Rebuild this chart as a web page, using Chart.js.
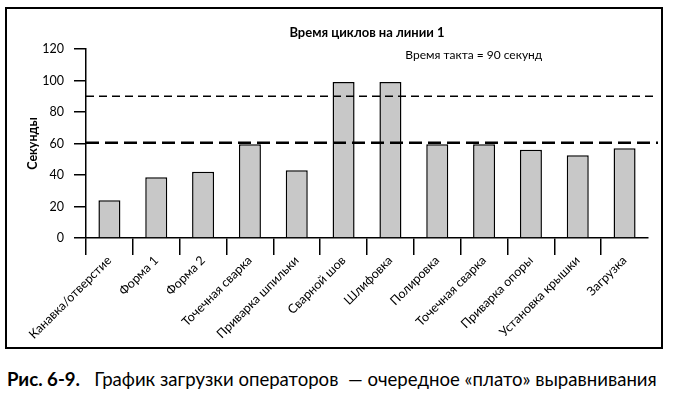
<!DOCTYPE html>
<html>
<head>
<meta charset="utf-8">
<script src="https://cdn.jsdelivr.net/npm/chart.js@4.4.1/dist/chart.umd.min.js"></script>
<style>
  body { margin: 0; background: #fff; }
  #wrap { position: relative; width: 673px; height: 397px; }
  #frame { position: absolute; left: 5px; top: 7px; width: 654px; height: 338px; border: 2px solid #000; }
  #frame canvas { display: block; }
  #caption { position: absolute; left: 7px; top: 368px; font: 18.6px Lato, sans-serif; color: #000; white-space: nowrap; }
  #caption b { font-weight: bold; }
</style>
</head>
<body>
<div id="wrap">
  <div id="frame"><canvas id="loadChart" width="654" height="338"></canvas></div>
  <div id="caption"><b>Рис. 6-9.</b>&nbsp;&nbsp; График загрузки операторов &nbsp;— очередное «плато» выравнивания</div>
</div>
<script>
  // Data
  const operations = ['Канавка/отверстие', 'Форма 1', 'Форма 2', 'Точечная сварка', 'Приварка шпильки',
    'Сварной шов', 'Шлифовка', 'Полировка', 'Точечная сварка', 'Приварка опоры', 'Установка крышки', 'Загрузка'];
  const cycleTimes = [24, 38.5, 42, 59.5, 43, 99, 99, 59.5, 59.5, 56, 52.5, 57];
  const taktTime = 90;
  const levelLine = 60.5;
  const yTicks = [0, 20, 40, 60, 80, 100, 120];

  const chartTitle = 'Время циклов на линии 1';
  const taktNote = 'Время такта = ' + taktTime + ' секунд';
  const FONT = 'Lato, sans-serif';

  // Title, takt note and the two dashed levels
  const overlayPlugin = {
    id: 'overlay',
    afterDatasetsDraw(chart) {
      const { ctx, chartArea } = chart;
      const y = chart.scales.y;
      ctx.save();
      ctx.strokeStyle = '#000';

      ctx.lineWidth = 1.3;
      ctx.setLineDash([8, 5]);
      ctx.beginPath();
      ctx.moveTo(chartArea.left, y.getPixelForValue(taktTime));
      ctx.lineTo(chartArea.right + 10, y.getPixelForValue(taktTime));
      ctx.stroke();

      ctx.lineWidth = 2.6;
      ctx.setLineDash([13, 6]);
      ctx.beginPath();
      ctx.moveTo(chartArea.left, y.getPixelForValue(levelLine));
      ctx.lineTo(chartArea.right + 10, y.getPixelForValue(levelLine));
      ctx.stroke();

      ctx.setLineDash([]);
      ctx.fillStyle = '#000';
      ctx.textAlign = 'center';
      ctx.textBaseline = 'middle';
      ctx.font = 'bold 13px ' + FONT;
      ctx.fillText(chartTitle, (chartArea.left + chartArea.right) / 2, chartArea.top - 16);
      ctx.font = '12px ' + FONT;
      ctx.fillText(taktNote, chartArea.left + chartArea.width * 0.69, y.getPixelForValue(116));
      ctx.restore();
    }
  };

  const ctx = document.getElementById('loadChart').getContext('2d');
  new Chart(ctx, {
    type: 'bar',
    data: {
      labels: operations,
      datasets: [{
        label: 'Время цикла',
        data: cycleTimes,
        backgroundColor: '#c8c8c8',
        borderColor: '#000',
        borderWidth: 1.5,
        barPercentage: 0.47,
        categoryPercentage: 1
      }]
    },
    options: {
      responsive: false,
      animation: false,
      layout: { padding: { left: 0, right: 13, top: 40, bottom: 0 } },
      plugins: {
        legend: { display: false },
        tooltip: { enabled: false }
      },
      scales: {
        x: {
          offset: true,
          grid: {
            offset: true,
            drawOnChartArea: false,
            tickLength: 17,
            lineWidth: 1.5,
            color: c => c.type === 'tick' ? '#000' : 'rgba(0,0,0,0)'
          },
          border: { color: '#000', width: 1.5 },
          ticks: {
            autoSkip: false,
            minRotation: 45,
            maxRotation: 45,
            padding: -2,
            color: '#000',
            font: { family: FONT, size: 12.5 }
          },
          afterFit: s => { s.height = 109; }
        },
        y: {
          min: 0,
          max: 120,
          afterBuildTicks: s => { s.ticks = yTicks.map(v => ({ value: v })); },
          grid: { drawOnChartArea: false, tickLength: 12, lineWidth: 1.5, color: '#000' },
          border: { color: '#000', width: 1.5 },
          ticks: { padding: 10, color: '#000', font: { family: FONT, size: 12.5 } },
          title: {
            display: true,
            text: 'Секунды',
            color: '#000',
            font: { family: FONT, size: 12.5, weight: 'bold' },
            padding: { top: 18, bottom: 0 }
          },
          afterFit: s => { s.width = 79; }
        }
      }
    },
    plugins: [overlayPlugin]
  });
</script>
</body>
</html>
